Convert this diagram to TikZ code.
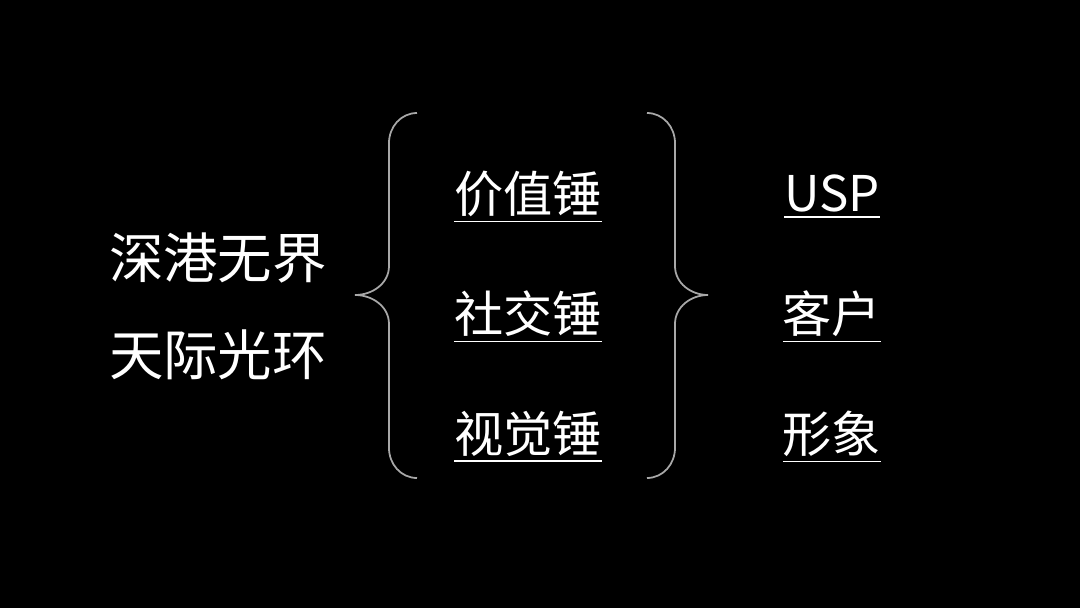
\documentclass[tikz,border=0pt]{standalone}
\usepackage{fontspec}
\setmainfont{Noto Sans CJK SC}
\usetikzlibrary{positioning, calc}
\definecolor{bgblack}{HTML}{000000}
\definecolor{brgray}{HTML}{A8A8A8}

\begin{document}
\begin{tikzpicture}[
  x=0.1mm, y=-0.1mm,
  every node/.style={text=white, inner sep=0pt},
  titletext/.style={font=\fontsize{15.5}{18}\selectfont},
  hammer/.style={font=\fontsize{14}{17}\selectfont},
  bracepath/.style={draw=brgray, line width=0.5pt},
]

% Background
\fill[bgblack] (0,0) rectangle (1080,608);

% Project names
\node[titletext] (name1) at (218,258) {深港无界};
\node[titletext] (name2) at (218,355) {天际光环};

% Left brace
\draw[bracepath] (417,113) to[out=180,in=90] (389,143) -- (389,266)
  to[out=-90,in=0] (355,295) to[out=0,in=90] (389,324) -- (389,448)
  to[out=-90,in=180] (417,478);

% Hammers
\node[hammer] (h1) at (528,197) {\underline{价值锤}};
\node[hammer] (h2) at (528,317) {\underline{社交锤}};
\node[hammer] (h3) at (528,437) {\underline{视觉锤}};

% Right brace
\draw[bracepath] (647,113) to[out=0,in=90] (675,143) -- (675,266)
  to[out=-90,in=180] (708,295) to[out=180,in=90] (675,324) -- (675,448)
  to[out=-90,in=0] (647,478);

% Targets
\node[hammer] (t1) at (832,197) {\underline{USP}};
\node[hammer] (t2) at (832,317) {\underline{客户}};
\node[hammer] (t3) at (832,437) {\underline{形象}};

\end{tikzpicture}
\end{document}
